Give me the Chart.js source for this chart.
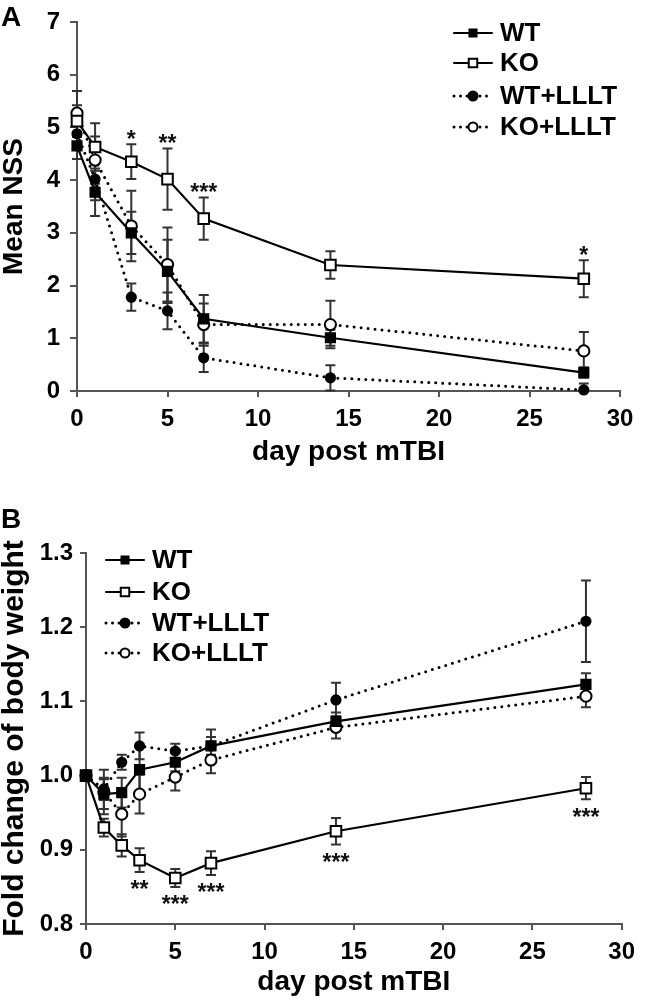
<!DOCTYPE html>
<html><head><meta charset="utf-8">
<script src="https://cdn.jsdelivr.net/npm/chart.js@4/dist/chart.umd.min.js"></script>
<style>
html,body{margin:0;padding:0;background:#fff;}
#wrap{position:relative;width:645px;height:1002px;overflow:hidden;}
#ca{position:absolute;left:0;top:0;}
#cb{position:absolute;left:0;top:480px;}
.lbl{position:absolute;font:bold 28px "Liberation Sans",Arial,sans-serif;line-height:28px;color:#000;}
</style></head><body>
<div id="wrap">
<canvas id="ca" width="645" height="480"></canvas>
<canvas id="cb" width="645" height="522"></canvas>
<div class="lbl" style="left:1px;top:3px">A</div>
<div class="lbl" style="left:1px;top:505px">B</div>
</div>
<script>
// ---------- Panel A data (Mean NSS) ----------
const seriesNames = ['WT', 'KO', 'WT+LLLT', 'KO+LLLT'];
const daysA = [0, 1, 3, 5, 7, 14, 28];
const wtA      = [4.65, 3.77, 3.00, 2.27, 1.37, 1.01, 0.35];
const wtAErr   = [0.25, 0.45, 0.40, 0.60, 0.45, 0.15, 0.10];
const koA      = [5.12, 4.63, 4.35, 4.02, 3.27, 2.39, 2.13];
const koAErr   = [0.30, 0.45, 0.33, 0.58, 0.40, 0.26, 0.35];
const wtlA     = [4.88, 4.02, 1.78, 1.52, 0.63, 0.25, 0.02];
const wtlAErr  = [0.30, 0.40, 0.26, 0.35, 0.27, 0.24, 0.12];
const kolA     = [5.27, 4.38, 3.13, 2.40, 1.26, 1.26, 0.76];
const kolAErr  = [0.42, 0.45, 0.67, 0.70, 0.40, 0.45, 0.36];
const sigADays  = [3, 5, 7, 28];
const sigAMarks = ['*', '**', '***', '*'];
const yTicksA = ['0','1','2','3','4','5','6','7'];

// ---------- Panel B data (Fold change of body weight) ----------
const daysB = [0, 1, 2, 3, 5, 7, 14, 28];
const wtB      = [1.000, 0.975, 0.977, 1.008, 1.018, 1.040, 1.073, 1.123];
const wtBErr   = [0, 0.020, 0.020, 0.030, 0.012, 0.022, 0.012, 0.015];
const koB      = [1.000, 0.930, 0.906, 0.886, 0.862, 0.882, 0.925, 0.983];
const koBErr   = [0, 0.012, 0.015, 0.016, 0.012, 0.016, 0.018, 0.015];
const wtlB     = [1.000, 0.982, 1.018, 1.040, 1.033, 1.040, 1.102, 1.208];
const wtlBErr  = [0, 0.015, 0.010, 0.018, 0.010, 0.012, 0.023, 0.055];
const kolB     = [1.000, 0.978, 0.948, 0.975, 0.998, 1.021, 1.065, 1.107];
const kolBErr  = [0, 0.030, 0.030, 0.026, 0.018, 0.018, 0.015, 0.015];
const sigBDays  = [3, 5, 7, 14, 28];
const sigBMarks = ['**', '***', '***', '***', '***'];
const yTicksB = ['0.8','0.9','1.0','1.1','1.2','1.3'];
const xTitle = 'day post mTBI';
const yTitleA = 'Mean NSS';
const yTitleB = 'Fold change of body weight';

const FAM = '"Liberation Sans", Arial, Helvetica, sans-serif';
const AX = '#555';

const styleOf = {
  'WT':      {pointStyle:'rect',   radius:6.5, bg:'#000', dash:[],     lr:5},
  'KO':      {pointStyle:'rect',   radius:7.5, bg:'#fff', dash:[],     lr:6},
  'WT+LLLT': {pointStyle:'circle', radius:4.6, bg:'#000', dash:[0,7],  lr:4.5},
  'KO+LLLT': {pointStyle:'circle', radius:5.6, bg:'#fff', dash:[0,7],  lr:4.5}
};

function mkDs(name, days, vals, errs) {
  const s = styleOf[name];
  return {
    label: name,
    data: days.map((d, i) => ({x: d, y: vals[i]})),
    errors: errs,
    borderColor: '#000',
    backgroundColor: s.bg,
    borderWidth: s.dash.length ? 3 : 2.2,
    borderDash: s.dash,
    borderCapStyle: 'round',
    pointStyle: s.pointStyle,
    pointRadius: s.radius,
    pointHoverRadius: s.radius,
    pointBackgroundColor: s.bg,
    pointBorderColor: '#000',
    pointBorderWidth: 2,
    tension: 0,
    fill: false,
    clip: false
  };
}

const errPlugin = {
  id: 'errbars',
  beforeDatasetsDraw(chart) {
    const ctx = chart.ctx, xs = chart.scales.x, ys = chart.scales.y;
    ctx.save();
    ctx.strokeStyle = '#333';
    ctx.lineWidth = 2;
    ctx.setLineDash([]);
    chart.data.datasets.forEach(ds => {
      ds.data.forEach((p, i) => {
        const e = ds.errors[i];
        if (!e) return;
        const x = xs.getPixelForValue(p.x);
        const hiV = p.y + e, loV = p.y - e;
        const yh = ys.getPixelForValue(Math.min(hiV, ys.max));
        const yl = ys.getPixelForValue(Math.max(loV, ys.min));
        ctx.beginPath();
        ctx.moveTo(x, yh); ctx.lineTo(x, yl);
        if (hiV <= ys.max) { ctx.moveTo(x - 5, yh); ctx.lineTo(x + 5, yh); }
        if (loV >= ys.min) { ctx.moveTo(x - 5, yl); ctx.lineTo(x + 5, yl); }
        ctx.stroke();
      });
    });
    ctx.restore();
  }
};

const sigPlugin = {
  id: 'sig',
  afterDatasetsDraw(chart, args, opts) {
    if (!opts || !opts.days) return;
    const ctx = chart.ctx, xs = chart.scales.x, ys = chart.scales.y;
    const ds = chart.data.datasets.find(d => d.label === opts.series);
    const fs = 23;
    ctx.save();
    ctx.fillStyle = '#111';
    ctx.font = 'bold ' + fs + 'px ' + FAM;
    ctx.textAlign = 'center';
    ctx.textBaseline = 'alphabetic';
    opts.days.forEach((d, k) => {
      const i = ds.data.findIndex(p => p.x === d);
      const p = ds.data[i], e = ds.errors[i];
      const x = xs.getPixelForValue(d);
      let cy;
      if (opts.above) cy = ys.getPixelForValue(p.y + e) - opts.gap;
      else cy = ys.getPixelForValue(p.y - e) + opts.gap;
      ctx.fillText(opts.marks[k], x, cy + 0.58 * fs);
    });
    ctx.restore();
  }
};

const legendPlugin = {
  id: 'customLegend',
  afterDraw(chart, args, opts) {
    if (!opts || opts.x === undefined) return;
    const ctx = chart.ctx;
    ctx.save();
    chart.data.datasets.forEach((ds, i) => {
      const s = styleOf[ds.label];
      const y = opts.rows[i], cx = opts.x;
      ctx.strokeStyle = '#000';
      ctx.lineWidth = s.dash.length ? 3 : 2.2;
      ctx.lineCap = 'round';
      ctx.setLineDash(s.dash.length ? [0, 6.5] : []);
      ctx.beginPath();
      ctx.moveTo(cx - 19, y); ctx.lineTo(cx + 19, y);
      ctx.stroke();
      ctx.setLineDash([]);
      ctx.fillStyle = s.bg;
      ctx.lineWidth = 2;
      Chart.helpers.drawPoint(ctx, {pointStyle: s.pointStyle, rotation: 0, radius: s.lr, borderWidth: 2}, cx, y);
      ctx.fillStyle = '#000';
      ctx.font = 'bold 26px ' + FAM;
      ctx.textAlign = 'left';
      ctx.textBaseline = 'middle';
      ctx.fillText(ds.label, opts.tx, y + 1);
    });
    ctx.restore();
  }
};

function makeScales(o) {
  return {
    x: {
      type: 'linear', min: 0, max: 30,
      ticks: {stepSize: 5, color: '#000', padding: 10, maxRotation: 0,
              font: {family: FAM, size: 24, weight: 'bold', lineHeight: 1}},
      grid: {drawOnChartArea: false, drawTicks: true, tickLength: 6, color: AX, lineWidth: 2},
      border: {display: true, color: AX, width: 2},
      title: {display: true, text: xTitle, color: '#000',
              font: {family: FAM, size: 28, weight: 'bold', lineHeight: 1},
              padding: {top: 0, bottom: o.xtpb}},
      afterFit(s) { s.height = o.xh; }
    },
    y: {
      type: 'linear', min: o.ymin, max: o.ymax,
      ticks: {stepSize: o.step, color: '#000', padding: o.ypad,
              font: {family: FAM, size: 24, weight: 'bold', lineHeight: 1},
              callback: (v, i) => o.labels[i]},
      grid: {drawOnChartArea: false, drawTicks: true, tickLength: o.ytl, color: AX, lineWidth: 2},
      border: {display: true, color: AX, width: 2},
      title: {display: true, text: o.ytitle, color: '#000',
              font: {family: FAM, size: o.ytsize, weight: 'bold', lineHeight: 1},
              padding: {top: 0, bottom: 0}},
      afterFit(s) { s.width = o.yw; }
    }
  };
}

const common = {
  responsive: false,
  animation: false,
  events: [],
  plugins: {legend: {display: false}, tooltip: {enabled: false}}
};

new Chart(document.getElementById('ca'), {
  type: 'line',
  data: {datasets: [
    mkDs('WT', daysA, wtA, wtAErr),
    mkDs('KO', daysA, koA, koAErr),
    mkDs('WT+LLLT', daysA, wtlA, wtlAErr),
    mkDs('KO+LLLT', daysA, kolA, kolAErr)
  ]},
  options: Object.assign({}, common, {
    layout: {padding: {top: 18, right: 25, left: 0, bottom: 0}},
    scales: makeScales({xh: 89, xtpb: 14, ymin: 0, ymax: 7, step: 1, ypad: 10, ytl: 7, yw: 77, labels: yTicksA, ytitle: yTitleA, ytsize: 28}),
    plugins: Object.assign({}, common.plugins, {
      sig: {series: 'KO', days: sigADays, marks: sigAMarks, above: true, gap: 11},
      customLegend: {x: 473, tx: 500, rows: [33, 63, 96, 127]}
    })
  }),
  plugins: [errPlugin, sigPlugin, legendPlugin]
});

new Chart(document.getElementById('cb'), {
  type: 'line',
  data: {datasets: [
    mkDs('WT', daysB, wtB, wtBErr),
    mkDs('KO', daysB, koB, koBErr),
    mkDs('WT+LLLT', daysB, wtlB, wtlBErr),
    mkDs('KO+LLLT', daysB, kolB, kolBErr)
  ]},
  options: Object.assign({}, common, {
    layout: {padding: {top: 73, right: 16, left: 0, bottom: 0}},
    scales: makeScales({xh: 78, xtpb: 6, ymin: 0.8, ymax: 1.3, step: 0.1, ypad: 7, ytl: 6, yw: 86, labels: yTicksB, ytitle: yTitleB, ytsize: 30}),
    plugins: Object.assign({}, common.plugins, {
      sig: {series: 'KO', days: sigBDays, marks: sigBMarks, above: false, gap: 12},
      customLegend: {x: 125, tx: 152, rows: [80, 112, 143, 173]}
    })
  }),
  plugins: [errPlugin, sigPlugin, legendPlugin]
});
</script>
</body></html>
